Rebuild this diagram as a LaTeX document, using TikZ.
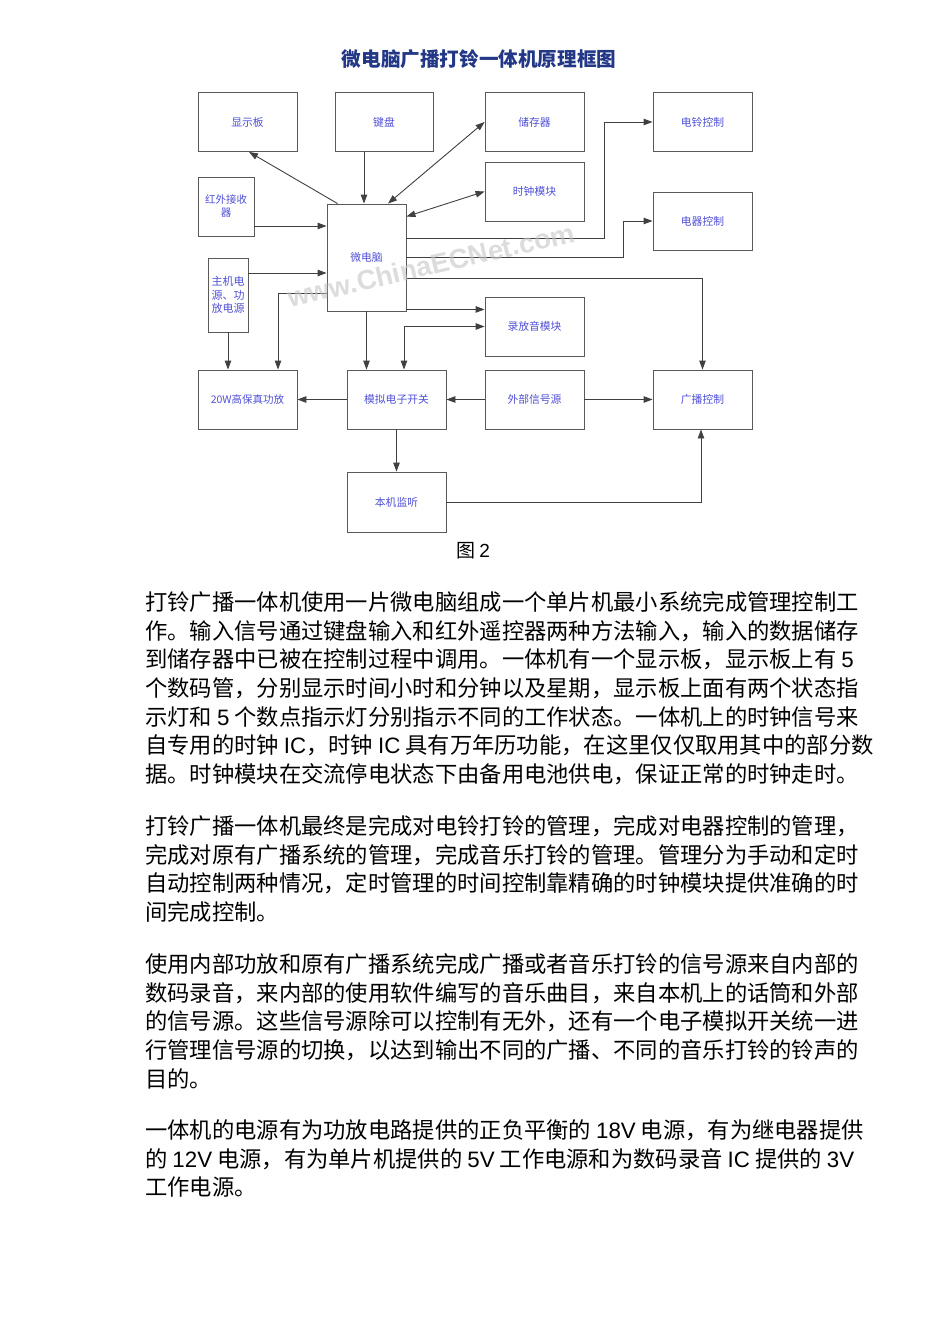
\documentclass[tikz,border=0pt]{standalone}
\usepackage{fontspec}
\newfontfamily\cjk{Noto Sans CJK SC}
\newfontfamily\lat{Liberation Sans}
\usetikzlibrary{arrows.meta}
\definecolor{lblblue}{RGB}{80,80,215}
\definecolor{ttlblue}{RGB}{35,55,135}
\tikzset{
  blk/.style={draw=black!65, line width=0.9pt, minimum width=99pt, minimum height=59pt,
    inner sep=1pt, align=center, text=lblblue, font=\cjk\fontsize{10.8}{13}\selectfont},
  con/.style={draw=black!75, line width=0.9pt},
  body/.style={anchor=base west, inner sep=0pt, font=\cjk\fontsize{22.3}{28}\selectfont},
  >={Triangle[length=9pt,width=6.5pt]}
}
\begin{document}
\begin{tikzpicture}[x=1pt,y=-1pt]

  \useasboundingbox[fill=white] (0,0) rectangle (950,1344);

  \node[font=\cjk\bfseries\fontsize{19.6}{22}\selectfont, text=ttlblue] (title) at (479,59) {微电脑广播打铃一体机原理框图};

  % blocks
  \node[blk] (disp) at (247.5,122) {显示板};
  \node[blk, minimum width=98pt] (keyb) at (384,122) {键盘};
  \node[blk] (mem) at (534.5,122) {储存器};
  \node[blk] (bell) at (702.5,122) {电铃控制};
  \node[blk] (clk) at (534.5,191.5) {时钟模块};
  \node[blk, minimum width=56pt, font=\cjk\fontsize{10.5}{13}\selectfont] (ir) at (226,206.5) {红外接收\\器};
  \node[blk, minimum height=58pt] (appl) at (702.5,221) {电器控制};
  \node[blk, minimum width=79pt, minimum height=107pt] (mcu) at (366.5,257.5) {微电脑};
  \node[blk, minimum width=40pt, minimum height=74pt, font=\cjk\fontsize{11}{13.5}\selectfont] (pwr) at (228,295) {主机电\\源、功\\放电源};
  \node[blk] (rec) at (534.5,326.5) {录放音模块};
  \node[blk, font=\cjk\fontsize{10.5}{13}\selectfont] (amp) at (247.5,399.5) {20W高保真功放};
  \node[blk] (sw) at (396.5,399.5) {模拟电子开关};
  \node[blk] (ext) at (534.5,399.5) {外部信号源};
  \node[blk] (bc) at (702.5,399.5) {广播控制};
  \node[blk, minimum height=60pt] (mon) at (396.5,502) {本机监听};

  % connections
  \draw[con,->] ([xshift=11pt]mcu.north west) -- ([xshift=1.5pt]disp.south);
  \draw[con,->] ([xshift=-20pt]keyb.south) -- ([xshift=-20pt]keyb.south |- mcu.north);
  \draw[con,<->] ([xshift=21.5pt]mcu.north) -- (mem.west);
  \draw[con,<->] ([yshift=-13pt]mcu.north east) -- (clk.west);
  \draw[con,->] ([yshift=-19.5pt]ir.east) -- ([yshift=-19.5pt]ir.east -| mcu.west);
  \draw[con,->] ([yshift=-35pt]mcu.north east) -- ++(198,0) |- (bell.west);
  \draw[con,->] (mcu.east) -- ++(217,0) |- (appl.west);
  \draw[con,->] ([yshift=-20.5pt]mcu.east) -| (bc.north);
  \draw[con,->] ([yshift=2pt]mcu.south east) -- ([yshift=2pt]mcu.south east -| rec.west);
  \draw[con,<->] ([xshift=7.5pt]sw.north) |- (rec.west);
  \draw[con,->] (mcu.south) -- (mcu.south |- sw.north);
  \draw[con,->] ([yshift=22pt]pwr.east) -- ([yshift=22pt]pwr.east -| mcu.west);
  \draw[con,->] (pwr.south) -- (pwr.south |- amp.north);
  \draw[con,->] ([yshift=-35.5pt]mcu.west) -| ([xshift=30.5pt]amp.north);
  \draw[con,->] (sw.west) -- (amp.east);
  \draw[con,->] (ext.west) -- (sw.east);
  \draw[con,->] (ext.east) -- (bc.west);
  \draw[con,->] (sw.south) -- (mon.north);
  \draw[con,->] (mon.east) -| ([xshift=-1.5pt]bc.south);

  % watermark
  \node[rotate=13, text=gray!45, opacity=0.6, font=\lat\bfseries\fontsize{27.5}{30}\selectfont] (wmark) at (431,265) {www.ChinaECNet.com};

  \node[font=\cjk\fontsize{19}{22}\selectfont] (fig) at (473,551) {图 {\lat 2}};

  % text
  \node[body] (p1a) at (145,610.5) {打铃广播一体机使用一片微电脑组成一个单片机最小系统完成管理控制工};
  \node[body] (p1b) at (145,639.2) {作。输入信号通过键盘输入和红外遥控器两种方法输入，输入的数据储存};
  \node[body] (p1c) at (145,667.8) {到储存器中已被在控制过程中调用。一体机有一个显示板，显示板上有 {\lat 5}};
  \node[body] (p1d) at (145,696.5) {个数码管，分别显示时间小时和分钟以及星期，显示板上面有两个状态指};
  \node[body] (p1e) at (145,725.2) {示灯和 {\lat 5} 个数点指示灯分别指示不同的工作状态。一体机上的时钟信号来};
  \node[body] (p1f) at (145,753.8) {自专用的时钟 {\lat IC}，时钟 {\lat IC} 具有万年历功能，在这里仅仅取用其中的部分数};
  \node[body] (p1g) at (145,782.5) {据。时钟模块在交流停电状态下由备用电池供电，保证正常的时钟走时。};

  \node[body] (p2a) at (145,834.5) {打铃广播一体机最终是完成对电铃打铃的管理，完成对电器控制的管理，};
  \node[body] (p2b) at (145,863.2) {完成对原有广播系统的管理，完成音乐打铃的管理。管理分为手动和定时};
  \node[body] (p2c) at (145,891.8) {自动控制两种情况，定时管理的时间控制靠精确的时钟模块提供准确的时};
  \node[body] (p2d) at (145,920.5) {间完成控制。};

  \node[body] (p3a) at (145,972.5) {使用内部功放和原有广播系统完成广播或者音乐打铃的信号源来自内部的};
  \node[body] (p3b) at (145,1001.2) {数码录音，来内部的使用软件编写的音乐曲目，来自本机上的话筒和外部};
  \node[body] (p3c) at (145,1029.8) {的信号源。这些信号源除可以控制有无外，还有一个电子模拟开关统一进};
  \node[body] (p3d) at (145,1058.5) {行管理信号源的切换，以达到输出不同的广播、不同的音乐打铃的铃声的};
  \node[body] (p3e) at (145,1087.2) {目的。};

  \node[body] (p4a) at (145,1138.5) {一体机的电源有为功放电路提供的正负平衡的 {\lat 18V} 电源，有为继电器提供};
  \node[body] (p4b) at (145,1167.2) {的 {\lat 12V} 电源，有为单片机提供的 {\lat 5V} 工作电源和为数码录音 {\lat IC} 提供的 {\lat 3V}};
  \node[body] (p4c) at (145,1195.8) {工作电源。};

\end{tikzpicture}
\end{document}
